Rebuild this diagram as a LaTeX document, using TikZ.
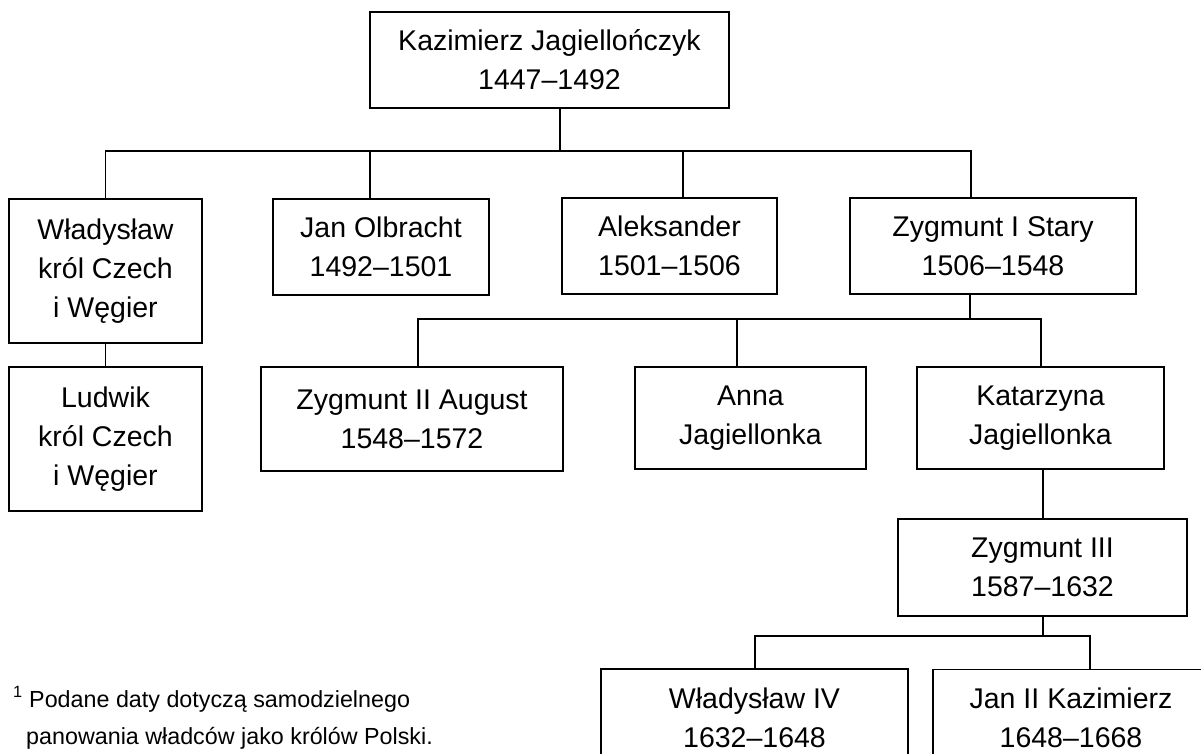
\documentclass[tikz,border=0pt]{standalone}
\usepackage{fontspec}
\setmainfont{Liberation Sans}
\begin{document}
\begin{tikzpicture}[x=1pt,y=-1pt,
  box/.style={draw, line width=1.3pt, inner sep=0pt, outer sep=0pt, align=center,
    font=\fontsize{28.5}{39}\selectfont},
  link/.style={line width=1.3pt},
  fn/.style={anchor=base west, inner sep=0pt, font=\fontsize{23.3}{37}\selectfont}]
\useasboundingbox (0,0) rectangle (1201,753);
\begin{scope}
\clip (0,0) rectangle (1201,753);
% boxes: centre, width, height
\node[box, minimum width=359pt, minimum height=96pt] (K) at (549.5,60) {Kazimierz Jagiellończyk\\1447–1492};
\node[box, minimum width=193pt, minimum height=144pt] (W) at (105.5,271) {Władysław\\król Czech\\i Węgier};
\node[box, minimum width=193pt, minimum height=144pt] (L) at (105.5,439) {Ludwik\\król Czech\\i Węgier};
\node[box, minimum width=216pt, minimum height=96pt] (JO) at (381,247) {Jan Olbracht\\1492–1501};
\node[box, minimum width=215pt, minimum height=96pt] (A) at (669.5,246) {Aleksander\\1501–1506};
\node[box, minimum width=286pt, minimum height=96pt] (Z1) at (993,246) {Zygmunt I Stary\\1506–1548};
\node[box, minimum width=302pt, minimum height=104pt] (Z2) at (412,419) {Zygmunt II August\\1548–1572};
\node[box, minimum width=231pt, minimum height=102pt] (AJ) at (750.5,418) {Anna\\Jagiellonka};
\node[box, minimum width=247pt, minimum height=102pt] (KJ) at (1040.5,418) {Katarzyna\\Jagiellonka};
\node[box, minimum width=289pt, minimum height=97pt] (Z3) at (1042.5,567.5) {Zygmunt III\\1587–1632};
\node[box, minimum width=307pt, minimum height=97pt] (W4) at (754.5,717.5) {Władysław IV\\1632–1648};
\node[box, minimum width=276pt, minimum height=97pt] (J2) at (1071,718) {Jan II Kazimierz\\1648–1668};
% bus coordinates
\coordinate (b0) at (560,151);
\coordinate (bJO) at (370,151);
\coordinate (bA) at (683,151);
\coordinate (bZ1) at (971,151);
\coordinate (c0) at (970,319);
\coordinate (cZ2) at (418,319);
\coordinate (cAJ) at (737,319);
\coordinate (cKJ) at (1041,319);
\coordinate (dK) at (1043,0);
\coordinate (e0) at (1043,636);
\coordinate (eW4) at (755,636);
\coordinate (eJ2) at (1090,636);
% connectors
\draw[link] (b0 |- K.south) -- (b0);
\draw[link] (W.north) |- (bZ1) -- (bZ1 |- Z1.north);
\draw[link] (bJO) -- (bJO |- JO.north);
\draw[link] (bA) -- (bA |- A.north);
\draw[link] (W.south) -- (L.north);
\draw[link] (c0 |- Z1.south) -- (c0);
\draw[link] (cZ2 |- Z2.north) -- (cZ2) -- (cKJ) -- (cKJ |- KJ.north);
\draw[link] (cAJ) -- (cAJ |- AJ.north);
\draw[link] (dK |- KJ.south) -- (dK |- Z3.north);
\draw[link] (e0 |- Z3.south) -- (e0);
\draw[link] (eW4 |- W4.north) -- (eW4) -- (eJ2) -- (eJ2 |- J2.north);
% footnote
\node[fn] (fn1) at (13,707) {\textsuperscript{1} Podane daty dotyczą samodzielnego};
\node[fn] (fn2) at (26,744) {panowania władców jako królów Polski.};
\end{scope}
\end{tikzpicture}
\end{document}
